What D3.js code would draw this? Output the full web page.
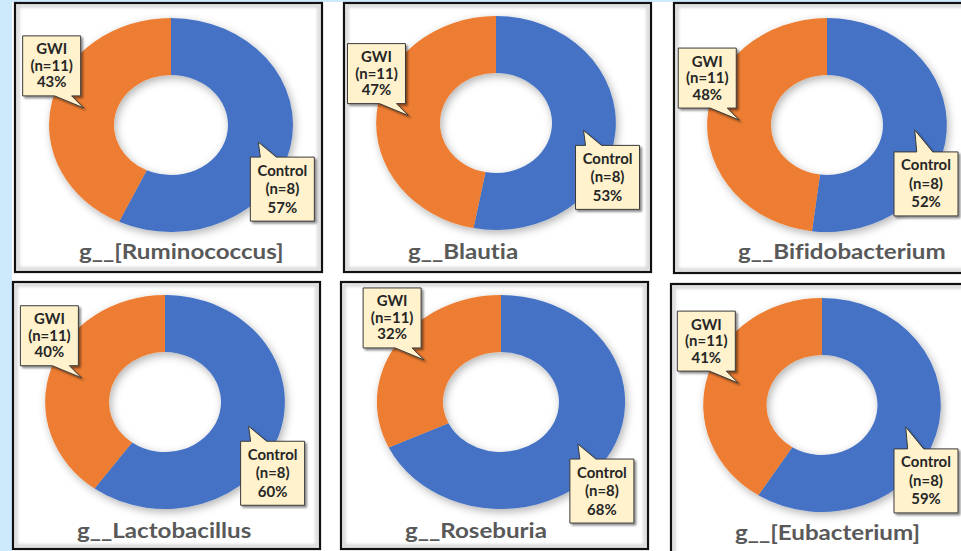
<!DOCTYPE html>
<html>
<head>
<meta charset="utf-8">
<script src="https://cdn.jsdelivr.net/npm/d3@7"></script>
<style>
  html, body { margin: 0; padding: 0; background: #cde9fc; }
  svg { display: block; }
  text { font-variant-ligatures: none; font-feature-settings: "liga" 0, "dlig" 0; }
</style>
</head>
<body>
<svg id="chart" width="961" height="551"></svg>
<script>
// Share of each group per genus (percent), Control vs GWI
const genera = ["g__[Ruminococcus]", "g__Blautia", "g__Bifidobacterium",
                "g__Lactobacillus", "g__Roseburia", "g__[Eubacterium]"];
const controlPct = [57, 53, 52, 60, 68, 59];
const gwiPct     = [43, 47, 48, 40, 32, 41];
const groups     = ["Control", "GWI"];
const groupN     = [8, 11];
const groupColors = ["#4472C4", "#ED7D31"];

// Panel frames and donut placement
const panelFrames = [
  { x: 15,  y: 3,   w: 307, h: 269, cx: 156, cy: 122, sx: 1.14 },
  { x: 344, y: 3,   w: 307, h: 269, cx: 152, cy: 120, sx: 1.12 },
  { x: 674, y: 3,   w: 320, h: 270, cx: 153, cy: 122, sx: 1.12 },
  { x: 13,  y: 282, w: 307, h: 267, cx: 152, cy: 120, sx: 1.12 },
  { x: 341, y: 282, w: 307, h: 267, cx: 160, cy: 120, sx: 1.16 },
  { x: 671, y: 284, w: 320, h: 275, cx: 151, cy: 121, sx: 1.11 }
];

const W = 961, H = 551;
const R_OUT = 107, R_IN = 50;
const FONT = "Lato, 'Open Sans', 'DejaVu Sans', sans-serif";

const svg = d3.select("#chart");
const defs = svg.append("defs");

// soft shadow under the rings
const fRing = defs.append("filter").attr("id", "ringShadow")
  .attr("x", "-20%").attr("y", "-20%").attr("width", "140%").attr("height", "140%");
fRing.append("feDropShadow").attr("dx", 2).attr("dy", 3)
  .attr("stdDeviation", 4.5).attr("flood-color", "#000").attr("flood-opacity", 0.3);

// crisp shadow under callouts
const fBox = defs.append("filter").attr("id", "boxShadow")
  .attr("x", "-20%").attr("y", "-20%").attr("width", "150%").attr("height", "150%");
fBox.append("feDropShadow").attr("dx", 2).attr("dy", 2)
  .attr("stdDeviation", 1.2).attr("flood-color", "#000").attr("flood-opacity", 0.45);

// inner haze along frame edges
const fEdge = defs.append("filter").attr("id", "edgeBlur");
fEdge.append("feGaussianBlur").attr("stdDeviation", 1.6);

// white sheet behind the panels (light blue margin on left and top)
svg.append("rect").attr("x", 12).attr("y", 2).attr("width", W).attr("height", H)
  .attr("fill", "#ffffff");

const pie = d3.pie().sort(null).value(d => d.value);
const arc = d3.arc().innerRadius(R_IN).outerRadius(R_OUT);
const midArc = d3.arc().innerRadius((R_IN + R_OUT) / 2).outerRadius((R_IN + R_OUT) / 2);

genera.forEach((name, i) => {
  const f = panelFrames[i];
  const g = svg.append("g").attr("transform", `translate(${f.x},${f.y})`);

  g.append("rect").attr("x", 0).attr("y", 0).attr("width", f.w).attr("height", f.h)
    .attr("fill", "#ffffff");
  g.append("rect").attr("x", 3).attr("y", 3).attr("width", f.w - 6).attr("height", f.h - 6)
    .attr("fill", "none").attr("stroke", "#d0d0d0").attr("stroke-width", 3)
    .attr("filter", "url(#edgeBlur)");
  g.append("rect").attr("x", 0).attr("y", 0).attr("width", f.w).attr("height", f.h)
    .attr("fill", "none").attr("stroke", "#111").attr("stroke-width", 2.2);

  const slices = pie([
    { group: groups[0], n: groupN[0], value: controlPct[i], color: groupColors[0] },
    { group: groups[1], n: groupN[1], value: gwiPct[i],     color: groupColors[1] }
  ]);

  const ringWrap = g.append("g").attr("filter", "url(#ringShadow)");
  const ring = ringWrap.append("g")
    .attr("transform", `translate(${f.cx},${f.cy}) scale(${f.sx},1)`);
  ring.selectAll("path").data(slices).join("path")
    .attr("d", arc)
    .attr("fill", d => d.data.color);

  // callouts anchored at each slice's mid-ring point
  slices.forEach(s => {
    const c = midArc.centroid(s);
    const tx = f.cx + c[0] * f.sx, ty = f.cy + c[1];
    let L, T, Wb, Hb, path;
    if (s.data.group === "GWI") {
      Wb = 58; Hb = 60;
      const Rr = tx - 3, B = ty - 12;
      L = Rr - Wb; T = B - Hb;
      path = `M${L},${T}H${Rr}V${B}H${Rr - 9}L${tx},${ty}L${Rr - 26},${B}H${L}Z`;
    } else {
      Wb = 64; Hb = 64;
      L = tx - 8; T = ty + 15;
      const maxRight = W - 3 - f.x;
      if (L + Wb > maxRight) { L = maxRight - Wb; T += 7; }
      const Rr = L + Wb, B = T + Hb;
      const b1 = Math.max(L + 10, tx + 2), b2 = b1 + 16;
      path = `M${L},${T}H${b1}L${tx},${ty}L${b2},${T}H${Rr}V${B}H${L}Z`;
    }
    const cg = g.append("g");
    cg.append("path").attr("d", path)
      .attr("fill", "#FFF2CC").attr("stroke", "#3a3a3a").attr("stroke-width", 1)
      .attr("filter", "url(#boxShadow)");
    const lines = [s.data.group, `(n=${s.data.n})`, `${s.data.value}%`];
    const lh = s.data.group === "GWI" ? 16.5 : 18.5;
    const mid = T + Hb / 2;
    lines.forEach((t, k) => {
      cg.append("text")
        .attr("transform", `translate(${L + Wb / 2},${mid + (k - 1) * lh + 5}) scale(1.03,1)`)
        .attr("text-anchor", "middle")
        .attr("font-family", FONT).attr("font-weight", "bold").attr("font-size", 14.5)
        .attr("fill", "#262626")
        .text(t);
    });
  });

  // genus title
  g.append("text")
    .attr("transform", `translate(64,256) scale(1.15,1)`)
    .attr("font-family", FONT).attr("font-weight", "bold").attr("font-size", 21)
    .attr("fill", "#595959")
    .text(name);
});
</script>
</body>
</html>
